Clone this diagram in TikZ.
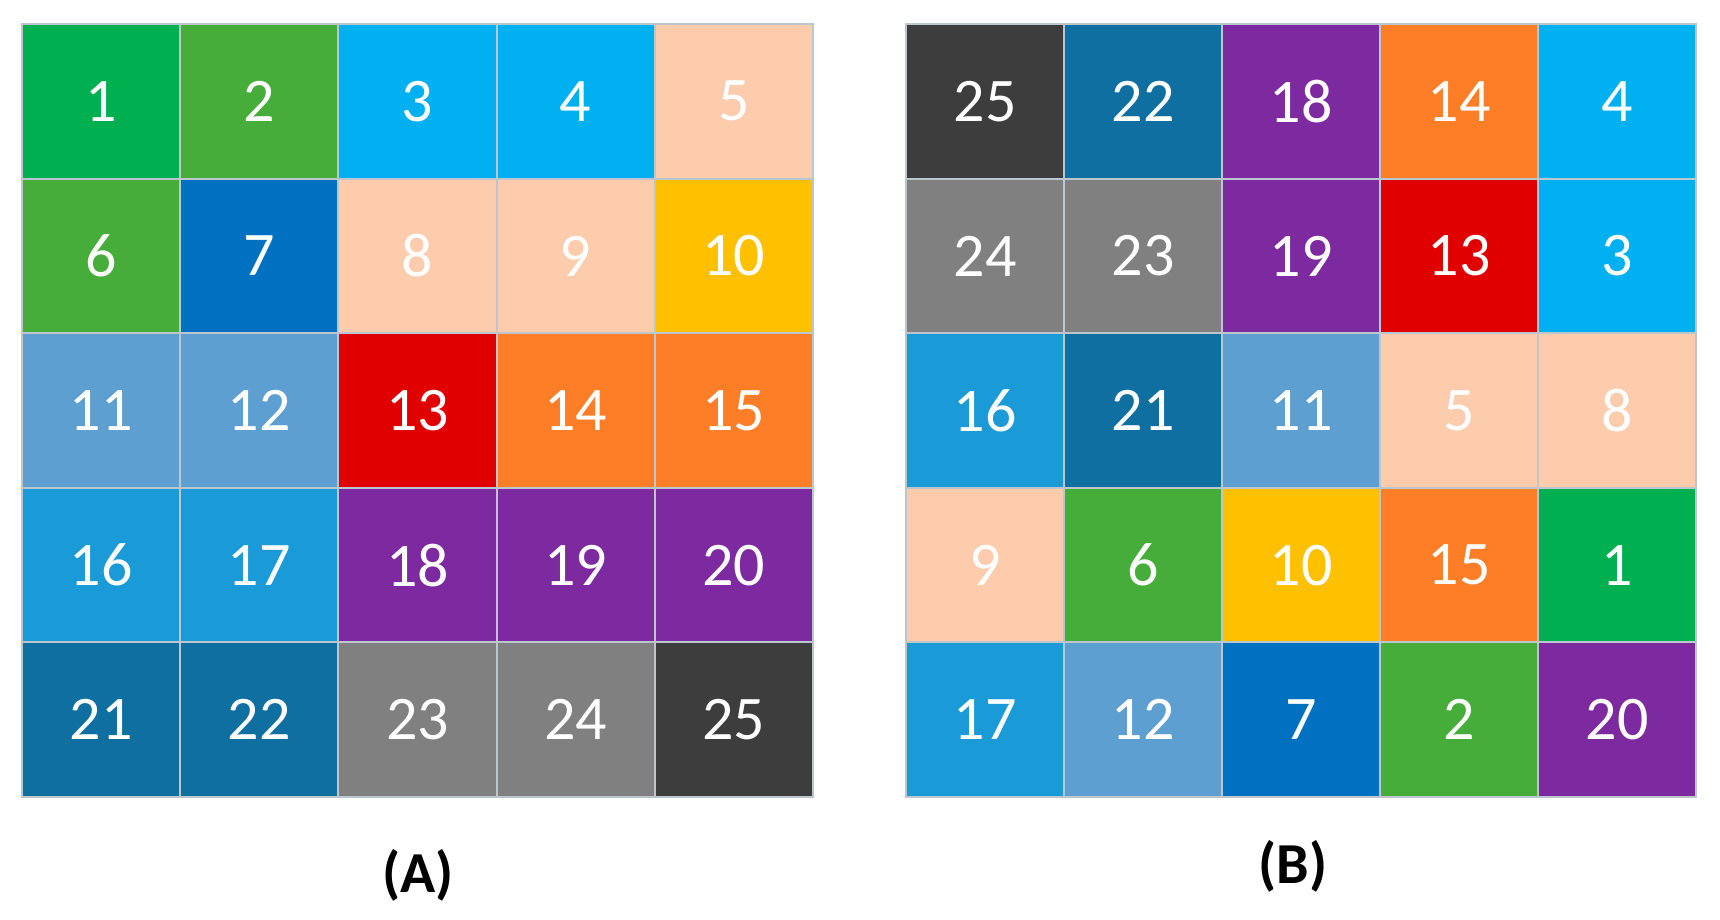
\documentclass[tikz,border=0pt]{standalone}
\usepackage{fontspec}
\setmainfont{Carlito}
\definecolor{c1}{HTML}{00B050}
\definecolor{c2}{HTML}{47AD3A}
\definecolor{c3}{HTML}{00B0F0}
\definecolor{c5}{HTML}{FDCCAC}
\definecolor{c7}{HTML}{0070C0}
\definecolor{c10}{HTML}{FFC000}
\definecolor{c11}{HTML}{5E9FD1}
\definecolor{c13}{HTML}{E00000}
\definecolor{c14}{HTML}{FD7E26}
\definecolor{c16}{HTML}{1A9BD7}
\definecolor{c18}{HTML}{7D2AA0}
\definecolor{c21}{HTML}{0E6FA0}
\definecolor{c23}{HTML}{808080}
\definecolor{c25}{HTML}{3D3D3D}
\definecolor{edgegray}{HTML}{BCC6CE}
\tikzset{
  cell/.style={draw=edgegray, line width=1pt, minimum width=79.1pt, minimum height=77.3pt,
    inner sep=0pt, text=white, font=\fontsize{31}{31}\selectfont},
  caption/.style={font=\fontsize{29}{29}\selectfont\bfseries, text=black}
}
\begin{document}
\begin{tikzpicture}[x=0.5pt,y=-0.5pt]
\useasboundingbox (0,0) rectangle (1720,920);
% colour of each number
\def\colof#1{%
  \ifcase#1\or c1\or c2\or c3\or c3\or c5\or c2\or c7\or c5\or c5\or c10%
  \or c11\or c11\or c13\or c14\or c14\or c16\or c16\or c18\or c18\or c18%
  \or c21\or c21\or c23\or c23\or c25\fi}
% grid A
\foreach \n [count=\i from 0] in {1,...,25} {
  \pgfmathtruncatemacro{\col}{mod(\i,5)}
  \pgfmathtruncatemacro{\row}{div(\i,5)}
  \edef\cc{\colof{\n}}
  \node[cell, fill=\cc] (a\n) at ({22+158.2*(\col+0.5)},{24+154.6*(\row+0.5)}) {\n};
}
% grid B
\foreach \n [count=\i from 0] in {25,22,18,14,4, 24,23,19,13,3, 16,21,11,5,8, 9,6,10,15,1, 17,12,7,2,20} {
  \pgfmathtruncatemacro{\col}{mod(\i,5)}
  \pgfmathtruncatemacro{\row}{div(\i,5)}
  \edef\cc{\colof{\n}}
  \node[cell, fill=\cc] (b\n) at ({906+158*(\col+0.5)},{24+154.6*(\row+0.5)}) {\n};
}
\node[caption] (capA) at (418,875) {(A)};
\node[caption] (capB) at (1293,866) {(B)};
\end{tikzpicture}
\end{document}
